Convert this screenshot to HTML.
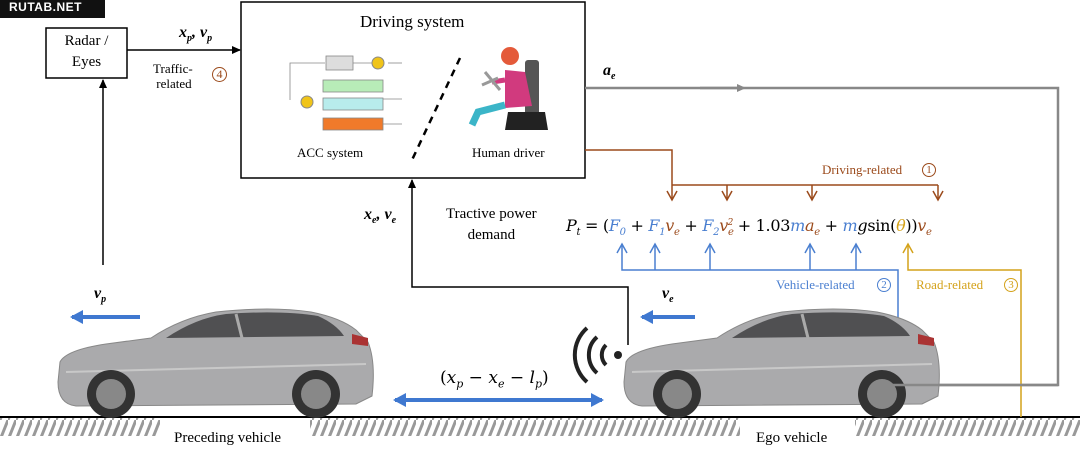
<!DOCTYPE html>
<html><head><meta charset="utf-8"><style>
body{margin:0;width:1080px;height:449px;overflow:hidden;background:#fff;font-family:"Liberation Serif",serif;}
.t{position:absolute;white-space:nowrap;}
</style></head><body>
<svg width="1080" height="449" style="position:absolute;left:0;top:0">
<defs>
<pattern id="h" width="8" height="20" patternUnits="userSpaceOnUse"><line x1="8" y1="0" x2="0" y2="20" stroke="#999" stroke-width="3"/></pattern>
<marker id="ab" markerWidth="10" markerHeight="10" refX="8" refY="5" orient="auto" markerUnits="userSpaceOnUse"><path d="M0,1 L9,5 L0,9 Z" fill="#000"/></marker>
<marker id="ag" markerWidth="10" markerHeight="10" refX="5" refY="5" orient="auto" markerUnits="userSpaceOnUse"><path d="M0,1 L9,5 L0,9 Z" fill="#888"/></marker>
<marker id="ob" markerWidth="12" markerHeight="12" refX="10" refY="6" orient="auto" markerUnits="userSpaceOnUse"><path d="M1,1 L10,6 L1,11" fill="none" stroke="#9b4a1b" stroke-width="1.5"/></marker>
<marker id="bb" markerWidth="12" markerHeight="12" refX="10" refY="6" orient="auto" markerUnits="userSpaceOnUse"><path d="M1,1 L10,6 L1,11" fill="none" stroke="#4a7fd0" stroke-width="1.5"/></marker>
<marker id="yb" markerWidth="12" markerHeight="12" refX="10" refY="6" orient="auto" markerUnits="userSpaceOnUse"><path d="M1,1 L10,6 L1,11" fill="none" stroke="#d4a21a" stroke-width="1.5"/></marker>
<marker id="bl" markerWidth="14" markerHeight="14" refX="11" refY="7" orient="auto" markerUnits="userSpaceOnUse"><path d="M0,0 L13,7 L0,14 Z" fill="#3f78d0"/></marker>
<g id="car">
<path d="M4,62 Q10,50 50,44 L95,38 Q125,18 160,12 Q215,6 255,12 Q285,18 300,30 L312,42 Q320,62 316,96 L300,104 L20,106 Q2,104 2,82 Z" fill="#aaaaac" stroke="#888" stroke-width="1"/>
<path d="M110,38 Q140,18 170,14 Q225,10 262,16 Q280,24 288,36 Z" fill="#505052"/>
<line x1="180" y1="14" x2="186" y2="38" stroke="#aaa" stroke-width="3"/>
<path d="M10,72 L310,64" stroke="#c8c8c8" stroke-width="2"/>
<circle cx="55" cy="94" r="24" fill="#333"/><circle cx="55" cy="94" r="15" fill="#888"/>
<circle cx="260" cy="94" r="24" fill="#333"/><circle cx="260" cy="94" r="15" fill="#888"/>
<path d="M296,34 L312,38 L312,46 L296,44Z" fill="#a33"/>
</g>
</defs>
<rect x="0" y="0" width="105" height="18" fill="#111"/>
<rect x="0" y="418" width="1080" height="18" fill="url(#h)"/>
<rect x="160" y="418" width="150" height="20" fill="#fff"/>
<rect x="740" y="418" width="115" height="20" fill="#fff"/>
<line x1="0" y1="417" x2="1080" y2="417" stroke="#000" stroke-width="2"/>
<rect x="46" y="28" width="81" height="50" fill="#fff" stroke="#000" stroke-width="1.5"/>
<rect x="241" y="2" width="344" height="176" fill="#fff" stroke="#000" stroke-width="1.5"/>
<line x1="127" y1="50" x2="240" y2="50" stroke="#000" stroke-width="1.5" marker-end="url(#ab)"/>
<line x1="103" y1="265" x2="103" y2="80" stroke="#000" stroke-width="1.5" marker-end="url(#ab)"/>
<polyline points="628,345 628,287 412,287 412,180" fill="none" stroke="#000" stroke-width="1.5" marker-end="url(#ab)"/>
<line x1="460" y1="58" x2="412" y2="160" stroke="#000" stroke-width="2.5" stroke-dasharray="7,6"/>
<g stroke="#888" stroke-width="0.8" fill="none">
<polyline points="290,100 290,63 325,63"/><line x1="353" y1="63" x2="372" y2="63"/>
<line x1="388" y1="63" x2="402" y2="63"/>
<line x1="383" y1="99" x2="402" y2="99"/><line x1="383" y1="124" x2="402" y2="124"/>
</g>
<rect x="326" y="56" width="27" height="14" fill="#ddd" stroke="#888" stroke-width="0.8"/>
<circle cx="378" cy="63" r="6" fill="#f0c419" stroke="#888"/>
<rect x="323" y="80" width="60" height="12" fill="#b8ecb8" stroke="#888" stroke-width="0.8"/>
<rect x="323" y="98" width="60" height="12" fill="#b8ecec" stroke="#888" stroke-width="0.8"/>
<rect x="323" y="118" width="60" height="12" fill="#f07a2a" stroke="#888" stroke-width="0.8"/>
<circle cx="307" cy="102" r="6" fill="#f0c419" stroke="#888"/>
<rect x="525" y="60" width="14" height="55" rx="3" fill="#555"/>
<path d="M508,112 L545,112 L548,130 L505,130 Z" fill="#222"/>
<path d="M505,70 L525,72 L532,106 L505,108 Z" fill="#d13a7e"/>
<circle cx="510" cy="56" r="9" fill="#e45a3a"/>
<path d="M505,105 L478,112 L472,125" stroke="#3bb5c8" stroke-width="7" fill="none"/>
<path d="M505,80 L492,82" stroke="#d13a7e" stroke-width="5"/>
<path d="M485,72 L500,90 M482,85 L498,78" stroke="#999" stroke-width="3"/>
<polyline points="585,88 1058,88 1058,385 892,385" fill="none" stroke="#888" stroke-width="2.5"/>
<line x1="700" y1="88" x2="742" y2="88" stroke="#888" stroke-width="2.5" marker-end="url(#ag)"/>
<g stroke="#9b4a1b" stroke-width="1.5" fill="none">
<polyline points="585,150 672,150 672,200" marker-end="url(#ob)"/>
<line x1="672" y1="185" x2="938" y2="185"/>
<line x1="727" y1="185" x2="727" y2="200" marker-end="url(#ob)"/>
<line x1="812" y1="185" x2="812" y2="200" marker-end="url(#ob)"/>
<line x1="938" y1="185" x2="938" y2="200" marker-end="url(#ob)"/>
</g>
<g stroke="#4a7fd0" stroke-width="1.5" fill="none">
<polyline points="898,322 898,270 622,270 622,244" marker-end="url(#bb)"/>
<line x1="655" y1="270" x2="655" y2="244" marker-end="url(#bb)"/>
<line x1="710" y1="270" x2="710" y2="244" marker-end="url(#bb)"/>
<line x1="810" y1="270" x2="810" y2="244" marker-end="url(#bb)"/>
<line x1="856" y1="270" x2="856" y2="244" marker-end="url(#bb)"/>
</g>
<polyline points="1021,417 1021,270 908,270 908,244" fill="none" stroke="#d4a21a" stroke-width="1.5" marker-end="url(#yb)"/>
<line x1="140" y1="317" x2="72" y2="317" stroke="#3f78d0" stroke-width="4" marker-end="url(#bl)"/>
<line x1="695" y1="317" x2="642" y2="317" stroke="#3f78d0" stroke-width="4" marker-end="url(#bl)"/>
<line x1="420" y1="400" x2="395" y2="400" stroke="#3f78d0" stroke-width="4" marker-end="url(#bl)"/>
<line x1="410" y1="400" x2="602" y2="400" stroke="#3f78d0" stroke-width="4" marker-end="url(#bl)"/>
<use href="#car" transform="translate(56,300)"/>
<use href="#car" transform="translate(622,300)"/>
<polyline points="892,385 1058,385" stroke="#888" stroke-width="2.5"/>
<circle cx="618" cy="355" r="4" fill="#222"/>
<g fill="none" stroke="#222" stroke-width="4">
<path d="M606,345 A14,14 0 0 0 606,365"/>
<path d="M597,337 A24,24 0 0 0 597,373"/>
<path d="M587,328 A36,36 0 0 0 587,382"/>
</g>
</svg>
<div class="t" style="left:9px;top:0px;font:bold 12px 'Liberation Sans',sans-serif;color:#fff;letter-spacing:0.5px">RUTAB.NET</div>
<div class="t" style="left:46px;top:31px;width:81px;text-align:center;font-size:15px;line-height:21px;white-space:normal">Radar /<br>Eyes</div>
<div class="t" style="left:179px;top:24px;font-size:16px;font-style:italic;font-weight:bold">x<sub style="font-size:10px">p</sub>, v<sub style="font-size:10px">p</sub></div>
<div class="t" style="left:153px;top:61px;font-size:13px;line-height:15px">Traffic-<br>&nbsp;related</div>
<div class="t" style="left:212px;top:67px;font-size:12px;color:#9b4a1b;border:1.5px solid #9b4a1b;border-radius:50%;width:13px;height:13px;line-height:13px;text-align:center">4</div>
<div class="t" style="left:360px;top:12px;font-size:17px">Driving system</div>
<div class="t" style="left:297px;top:145px;font-size:13px">ACC system</div>
<div class="t" style="left:472px;top:145px;font-size:13px">Human driver</div>
<div class="t" style="left:603px;top:62px;font-size:16px;font-style:italic;font-weight:bold">a<sub style="font-size:10px">e</sub></div>
<div class="t" style="left:822px;top:162px;font-size:13px;color:#9b4a1b">Driving-related</div>
<div class="t" style="left:922px;top:163px;font-size:11px;color:#9b4a1b;border:1.3px solid #9b4a1b;border-radius:50%;width:12px;height:12px;line-height:12px;text-align:center">1</div>
<div class="t" style="left:364px;top:206px;font-size:16px;font-style:italic;font-weight:bold">x<sub style="font-size:10px">e</sub>, v<sub style="font-size:10px">e</sub></div>
<div class="t" style="left:446px;top:204px;font-size:15px;line-height:21px;text-align:center">Tractive power<br>demand</div>
<div class="t" style="left:566px;top:216px;font-size:16px;font-family:'DejaVu Serif',serif;letter-spacing:-0.3px"><i>P<sub style="font-size:10px">t</sub></i> = (<i style="color:#4a7fd0">F<sub style="font-size:10px">0</sub></i> + <i style="color:#4a7fd0">F<sub style="font-size:10px">1</sub></i><i style="color:#9b4a1b">v<sub style="font-size:10px">e</sub></i> + <i style="color:#4a7fd0">F<sub style="font-size:10px">2</sub></i><i style="color:#9b4a1b">v<sub style="font-size:10px">e</sub><sup style="font-size:9px;margin-left:-6px">2</sup></i> + 1.03<i style="color:#4a7fd0">m</i><i style="color:#9b4a1b">a<sub style="font-size:10px">e</sub></i> + <i style="color:#4a7fd0">m</i><i>g</i>sin(<i style="color:#d4a21a">θ</i>))<i style="color:#9b4a1b">v<sub style="font-size:10px">e</sub></i></div>
<div class="t" style="left:776px;top:277px;font-size:13px;color:#4a7fd0">Vehicle-related</div>
<div class="t" style="left:877px;top:278px;font-size:11px;color:#4a7fd0;border:1.3px solid #4a7fd0;border-radius:50%;width:12px;height:12px;line-height:12px;text-align:center">2</div>
<div class="t" style="left:916px;top:277px;font-size:13px;color:#d4a21a">Road-related</div>
<div class="t" style="left:1004px;top:278px;font-size:11px;color:#d4a21a;border:1.3px solid #d4a21a;border-radius:50%;width:12px;height:12px;line-height:12px;text-align:center">3</div>
<div class="t" style="left:94px;top:285px;font-size:16px;font-style:italic;font-weight:bold">v<sub style="font-size:10px">p</sub></div>
<div class="t" style="left:662px;top:285px;font-size:16px;font-style:italic;font-weight:bold">v<sub style="font-size:10px">e</sub></div>
<div class="t" style="left:440px;top:368px;font-size:17px;font-family:'DejaVu Serif',serif">(<i>x<sub style="font-size:11px">p</sub></i> − <i>x<sub style="font-size:11px">e</sub></i> − <i>l<sub style="font-size:11px">p</sub></i>)</div>
<div class="t" style="left:174px;top:430px;font-size:15px">Preceding vehicle</div>
<div class="t" style="left:756px;top:430px;font-size:15px">Ego vehicle</div>
</body></html>
